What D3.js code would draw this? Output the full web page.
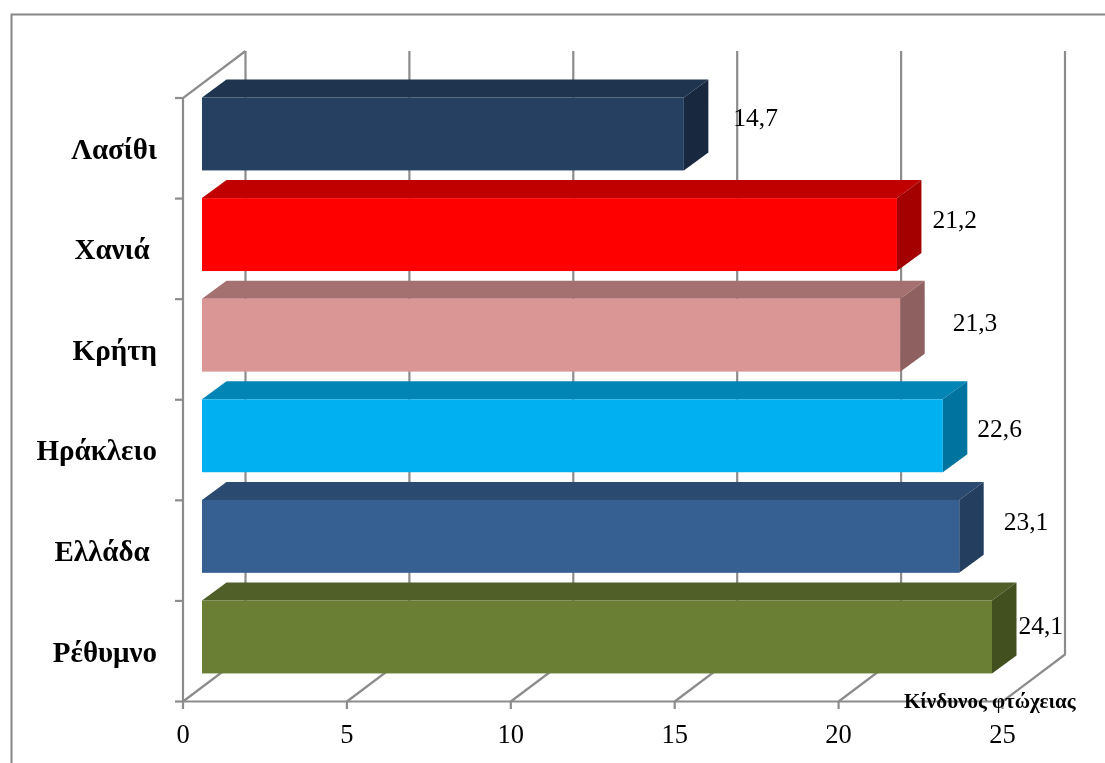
<!DOCTYPE html>
<html><head><meta charset="utf-8">
<script src="https://cdn.jsdelivr.net/npm/d3@7/dist/d3.min.js"></script>
<style>html,body{margin:0;padding:0;background:#fff}svg{display:block;filter:blur(.4px)}</style>
</head><body><svg id="c" width="1105" height="763"></svg>
<script>
const categories = ["Λασίθι","Χανιά ","Κρήτη","Ηράκλειο","Ελλάδα ","Ρέθυμνο"];
const values = [14.7,21.2,21.3,22.6,23.1,24.1];
const valueLabels = ["14,7","21,2","21,3","22,6","23,1","24,1"];
const frontColors = ["#254061","#FF0000","#D99694","#00B0F0","#376092","#6A7F34"];
const topColors = ["#1F344F","#C00000","#A57070","#0085B5","#2A4A70","#505F27"];
const sideColors = ["#18293F","#A50000","#8F6060","#00739E","#233E5F","#425020"];
const xTicks = [0,5,10,15,20,25];
const axisTitle = "Κίνδυνος φτώχειας";

const serif = "'Liberation Serif','Times New Roman',serif";
const svg = d3.select("#c");
const grid = "#8c8c8c";

// frame
svg.append("path").attr("d","M11.5,763V14.5H1105").attr("fill","none").attr("stroke","#868686").attr("stroke-width",2);

const x = d3.scaleLinear().domain([0,25]).range([183,1002.5]);
const yFull = d3.scaleBand().domain(categories).range([98,701.5]);
const y = d3.scaleBand().domain(categories).range([97.5,701.1]).paddingInner(.275).paddingOuter(.1375).align(0);

const wall = {dx:62.5,dy:-47};      // depth of the 3-D box
const barOff = 19;                  // bar front offset from the front plane
const barDepth = {dx:24.5,dy:-18};  // depth of each bar

const g = svg.append("g").attr("fill","none").attr("stroke",grid).attr("stroke-width",2.2);
// gridlines: floor diagonal then back wall vertical
g.selectAll("path.grid").data(xTicks).join("path").attr("class","grid")
 .attr("stroke-linejoin","round")
 .attr("d",t=>{const a=x(t),b=701.5;return `M${a},${b}L${a+wall.dx},${b+wall.dy}V${98+wall.dy}`;});
// left wall & top edge
g.append("path").attr("d",`M${x(0)+wall.dx},${98+wall.dy}L${x(0)},98V701.5H${x(25)}`);
// category ticks
const catEdges = categories.map(c=>yFull(c)).concat([701.5]);
g.selectAll("line.cat").data(catEdges).join("line").attr("class","cat")
 .attr("x1",x(0)-8).attr("x2",x(0)).attr("y1",d=>d).attr("y2",d=>d);
// value ticks
g.selectAll("line.val").data(xTicks).join("line").attr("class","val")
 .attr("x1",d=>x(d)).attr("x2",d=>x(d)).attr("y1",701.5).attr("y2",709);

// bars
const bars = svg.append("g").selectAll("g").data(categories).join("g");
const bx0 = x(0)+barOff;
const bx1 = (i)=>x(values[i])+barOff;
bars.append("path").attr("fill",(d,i)=>topColors[i])
 .attr("d",(d,i)=>{const t=y(d);return `M${bx0},${t}L${bx0+barDepth.dx},${t+barDepth.dy}H${bx1(i)+barDepth.dx}L${bx1(i)},${t}Z`;});
bars.append("path").attr("fill",(d,i)=>sideColors[i])
 .attr("d",(d,i)=>{const t=y(d),h=y.bandwidth();return `M${bx1(i)},${t}L${bx1(i)+barDepth.dx},${t+barDepth.dy}V${t+barDepth.dy+h}L${bx1(i)},${t+h}Z`;});
bars.append("rect").attr("fill",(d,i)=>frontColors[i])
 .attr("x",bx0).attr("y",d=>y(d)).attr("height",y.bandwidth()).attr("width",(d,i)=>bx1(i)-bx0);

// category labels
svg.append("g").selectAll("text").data(categories).join("text")
 .attr("x",157).attr("y",d=>y(d)+61)
 .attr("text-anchor","end").attr("xml:space","preserve").style("white-space","pre")
 .attr("font-family",serif).attr("font-weight","bold").attr("font-size",29).attr("fill","#000")
 .text(d=>d);

// value labels (hand-placed in the source chart: offset from each bar's end)
const labelNudge = [[25,1],[11,3],[28,5],[10,11],[20,3],[2,6]];
svg.append("g").selectAll("text").data(categories).join("text")
 .attr("x",(d,i)=>bx1(i)+barDepth.dx+labelNudge[i][0]).attr("y",(d,i)=>y(d)+27+labelNudge[i][1])
 .attr("font-family",serif).attr("font-size",25.5).attr("fill","#000")
 .text((d,i)=>valueLabels[i]);

// x tick labels
svg.append("g").selectAll("text").data(xTicks).join("text")
 .attr("x",d=>x(d)).attr("y",743).attr("text-anchor","middle")
 .attr("font-family",serif).attr("font-size",26.5).attr("fill","#000").text(d=>d);

svg.append("text").attr("x",904).attr("y",708)
 .attr("font-family",serif).attr("font-weight","bold").attr("font-size",21).attr("fill","#000").text(axisTitle);
</script></body></html>
